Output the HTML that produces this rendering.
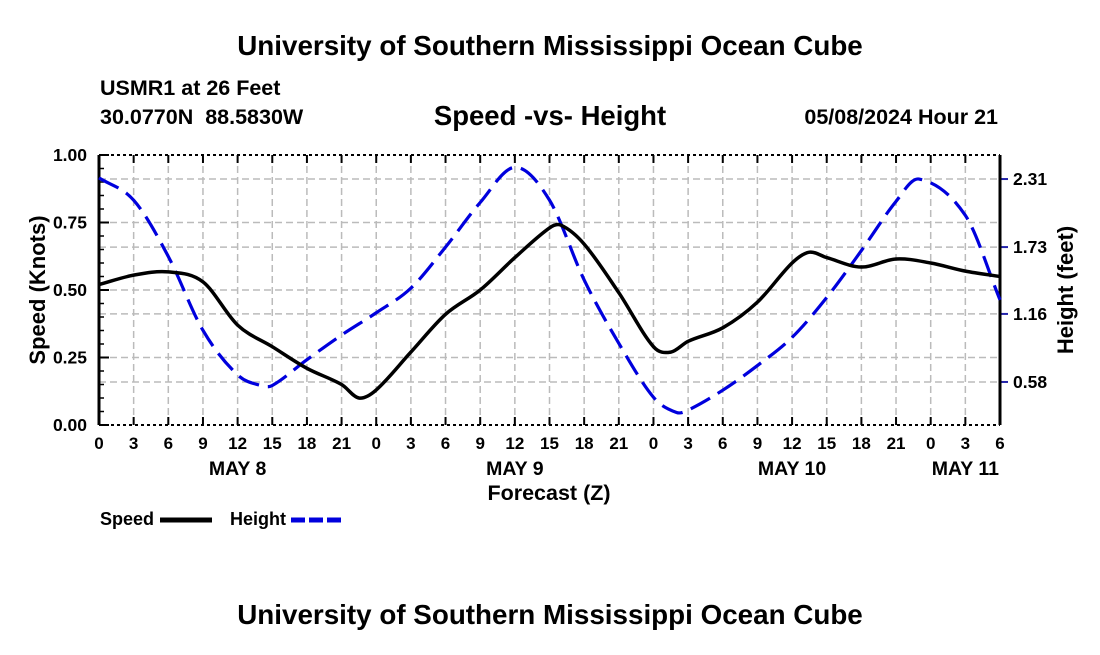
<!DOCTYPE html>
<html><head><meta charset="utf-8"><style>
body{margin:0;background:#fff;}
svg text{font-family:"Liberation Sans",Arial,sans-serif;font-weight:bold;fill:#000;}
</style></head><body>
<svg id="chart" width="1100" height="650" viewBox="0 0 1100 650" xmlns="http://www.w3.org/2000/svg">
<text x="550" y="55" font-size="27.8" text-anchor="middle">University of Southern Mississippi Ocean Cube</text>
<text x="100" y="95" font-size="21.5">USMR1 at 26 Feet</text>
<text x="100" y="124" font-size="21.5" xml:space="preserve">30.0770N  88.5830W</text>
<text x="550" y="125" font-size="27.5" text-anchor="middle">Speed -vs- Height</text>
<text x="998" y="124" font-size="21.5" text-anchor="end">05/08/2024 Hour 21</text>
<g id="grid"></g>
<g id="axes"></g>
<g id="series"></g>
<text x="45" y="290" font-size="22" text-anchor="middle" transform="rotate(-90 45 290)">Speed (Knots)</text>
<text x="1073" y="290" font-size="22" text-anchor="middle" transform="rotate(-90 1073 290)">Height (feet)</text>
<text x="549" y="500" font-size="21.5" text-anchor="middle">Forecast (Z)</text>
<g>
<text x="100" y="525" font-size="18">Speed</text>
<line x1="160" y1="520" x2="212" y2="520" stroke="#000" stroke-width="5"/>
<text x="230" y="525" font-size="18">Height</text>
<line x1="291" y1="520" x2="343" y2="520" stroke="#0000dd" stroke-width="5" stroke-dasharray="14,4"/>
</g>
<text x="550" y="624" font-size="27.8" text-anchor="middle">University of Southern Mississippi Ocean Cube</text>
</svg>
<script>
const tickHours = [0,3,6,9,12,15,18,21,24,27,30,33,36,39,42,45,48,51,54,57,60,63,66,69,72,75,78];
const speedHours = [0,3,6,9,12,15,18,21,22.5,24,27,30,33,36,39,40,42,45,48,49.5,51,54,57,60,61.5,63,66,69,72,75,78];
const speed = [0.52,0.555,0.567,0.53,0.37,0.29,0.21,0.15,0.10,0.13,0.27,0.41,0.50,0.62,0.73,0.74,0.67,0.49,0.29,0.27,0.31,0.36,0.455,0.60,0.64,0.62,0.585,0.615,0.60,0.57,0.55];
const heightHours = [0,3,6,9,12,14,15,18,21,24,27,30,33,36,39,42,45,48,50,51,54,57,60,63,66,69,71,75,78];
const height = [2.32,2.13,1.65,1.02,0.64,0.55,0.55,0.77,0.98,1.17,1.38,1.73,2.11,2.41,2.13,1.45,0.91,0.45,0.32,0.34,0.51,0.72,0.96,1.30,1.70,2.12,2.31,2.0,1.28];
const xTickLabels = ["0","3","6","9","12","15","18","21","0","3","6","9","12","15","18","21","0","3","6","9","12","15","18","21","0","3","6"];
const dayLabels = ["MAY 8","MAY 9","MAY 10","MAY 11"];
const dayHours = [12,36,60,75];
const leftTicks = [0,0.25,0.5,0.75,1.0];
const rightTicks = [0.58,1.16,1.73,2.31];

const L=99,R=1000,T=155,B=425;
const xS=h=>L+(R-L)*h/78;
const yL=v=>B-(B-T)*v;
const yR=v=>450-117.3*v;
const NS="http://www.w3.org/2000/svg";
function mk(tag,attrs,parent){const e=document.createElementNS(NS,tag);for(const k in attrs)e.setAttribute(k,attrs[k]);parent.appendChild(e);return e;}
const grid=document.getElementById('grid'),axes=document.getElementById('axes'),ser=document.getElementById('series');
const gs={stroke:"#bbb","stroke-width":1.5,"stroke-dasharray":"7,4"};
tickHours.forEach((h,i)=>{
  if(i>0&&i<tickHours.length-1){const g=mk('line',Object.assign({x1:xS(h),x2:xS(h),y1:T,y2:B},gs),grid);
  
  }
  const t=mk('line',{x1:xS(h),x2:xS(h),y1:B,y2:B-8,stroke:"#000","stroke-width":2},axes);
  
  
  const t2=mk('line',{x1:xS(h),x2:xS(h),y1:T,y2:T+8,stroke:"#000","stroke-width":2},axes);
  
  
  const tx=mk('text',{x:xS(h),y:449,"font-size":17,"text-anchor":"middle"},axes);tx.textContent=xTickLabels[i];
  
  
});
dayLabels.forEach((d,i)=>{const tx=mk('text',{x:xS(dayHours[i]),y:475,"font-size":19.5,"text-anchor":"middle"},axes);tx.textContent=d;
  
  });
leftTicks.forEach(v=>{
  if(v>0&&v<1){const g=mk('line',Object.assign({x1:L,x2:R,y1:yL(v),y2:yL(v)},gs),grid);
  
  }
  const t=mk('line',{x1:L,x2:L+10,y1:yL(v),y2:yL(v),stroke:"#000","stroke-width":2},axes);
  
  
  const tx=mk('text',{x:L-12,y:yL(v)+6,"font-size":17.5,"text-anchor":"end"},axes);tx.textContent=v.toFixed(2);
  
  
});
for(let v=0.05;v<1;v+=0.05){mk('line',{x1:L,x2:L+5,y1:yL(v),y2:yL(v),stroke:"#000","stroke-width":1.5},axes);}
rightTicks.forEach(v=>{
  const g=mk('line',Object.assign({x1:L,x2:R,y1:yR(v),y2:yR(v)},gs),grid);
  
  
  const t=mk('line',{x1:R,x2:R+8,y1:yR(v),y2:yR(v),stroke:"#2222aa","stroke-width":2},axes);
  
  
  const tx=mk('text',{x:R+13,y:yR(v)+6,"font-size":17.5},axes);tx.textContent=v.toFixed(2);
  
  
});
mk('line',{x1:L,x2:R,y1:T,y2:T,stroke:"#000","stroke-width":2,"stroke-dasharray":"3,3"},axes);
mk('line',{x1:L,x2:R,y1:B,y2:B,stroke:"#000","stroke-width":2,"stroke-dasharray":"3,3"},axes);
mk('line',{x1:L,x2:L,y1:T,y2:B,stroke:"#000","stroke-width":3},axes);
mk('line',{x1:R,x2:R,y1:T,y2:B,stroke:"#000","stroke-width":3},axes);
function path(pts){let d="M"+pts[0][0]+","+pts[0][1];
  for(let i=0;i<pts.length-1;i++){const p0=pts[Math.max(0,i-1)],p1=pts[i],p2=pts[i+1],p3=pts[Math.min(pts.length-1,i+2)];
    const dx=p2[0]-p1[0];
    const m1=(p2[1]-p0[1])/(p2[0]-p0[0]||1), m2=(p3[1]-p1[1])/(p3[0]-p1[0]||1);
    d+=" C"+(p1[0]+dx/3)+","+(p1[1]+m1*dx/3)+" "+(p2[0]-dx/3)+","+(p2[1]-m2*dx/3)+" "+p2[0]+","+p2[1];}
  return d;}
const hp=mk('path',{d:path(heightHours.map((h,i)=>[xS(h),yR(height[i])])),fill:"none",stroke:"#0000dd","stroke-width":3.2,"stroke-dasharray":"22,9"},ser);


const sp=mk('path',{d:path(speedHours.map((h,i)=>[xS(h),yL(speed[i])])),fill:"none",stroke:"#000","stroke-width":3.5},ser);


</script>
</body></html>
